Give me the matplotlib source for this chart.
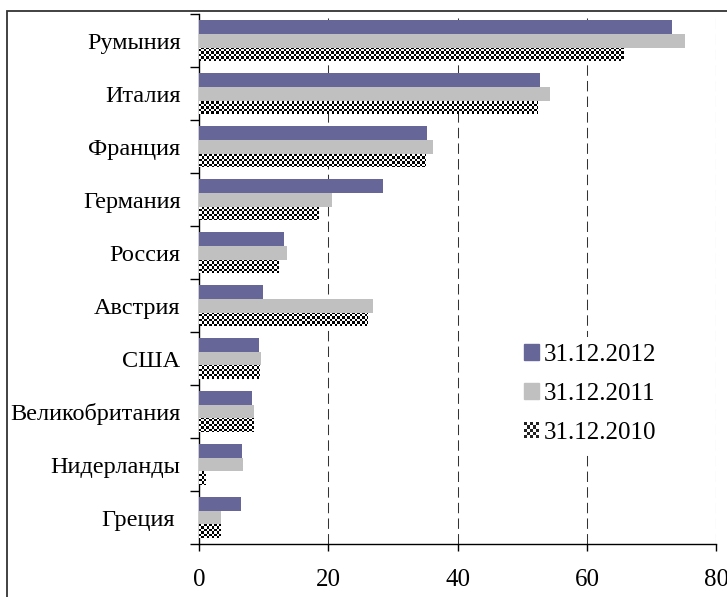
import numpy as np
import matplotlib
matplotlib.use('Agg')
import matplotlib.pyplot as plt
from matplotlib.patches import Rectangle, Patch
from matplotlib.legend_handler import HandlerBase

plt.rcParams['font.family'] = ['Liberation Serif', 'DejaVu Serif']

# страны и значения (сверху вниз)
countries = ['Румыния', 'Италия', 'Франция', 'Германия', 'Россия', 'Австрия',
             'США', 'Великобритания', 'Нидерланды', 'Греция ']
v2012 = [73.1, 52.7, 35.2, 28.4, 13.1, 9.9, 9.3, 8.2, 6.6, 6.4]
v2011 = [75.2, 54.2, 36.1, 20.5, 13.6, 26.9, 9.6, 8.5, 6.8, 3.4]
v2010 = [65.7, 52.4, 35.0, 18.5, 12.3, 26.0, 9.4, 8.5, 1.0, 3.4]
series_labels = ['31.12.2012', '31.12.2011', '31.12.2010']
xticks = [0, 20, 40, 60, 80]

purple = '#666699'
grey = '#c0c0c0'
dark = '#222222'


class CheckerHandler(HandlerBase):
    # клетчатый маркер для легенды
    def create_artists(self, legend, orig, xd, yd, w, h, fs, trans):
        n = 5
        arts = [Rectangle((-xd, -yd), w, h, fc='white', ec='none', transform=trans)]
        for i in range(n):
            for j in range(n):
                if (i + j) % 2 == 0:
                    arts.append(Rectangle((-xd + w * i / n, -yd + h * j / n), w / n, h / n,
                                          fc=dark, ec='none', transform=trans))
        return arts


fig = plt.figure(figsize=(7.27, 5.97), dpi=100)
ax = fig.add_axes([0.274, 0.0888, 0.9854 - 0.274, 0.976 - 0.0888])

y = np.arange(len(countries))
h = 0.26
ax.barh(y - h, v2012, height=h, color=purple, zorder=3)
ax.barh(y, v2011, height=h, color=grey, zorder=3)
bars10 = ax.barh(y + h, v2010, height=h, color='white', zorder=3)

# шахматная заливка для 2010
ny, nx = 212, 207
checker = (np.indices((ny, nx)).sum(axis=0) % 2).astype(float)
for b in bars10:
    im = ax.imshow(checker, cmap='gray', vmin=0, vmax=1, interpolation='nearest',
                   extent=(0, 80, len(countries) - 0.5, -0.5), aspect='auto', zorder=4)
    im.set_clip_path(b)
ax.set_xlim(0, 80)
ax.set_ylim(len(countries) - 0.5, -0.5)

ax.set_yticks(y)
ax.set_yticklabels(countries, fontsize=17.5)
ax.set_yticks(np.arange(-0.5, len(countries)), minor=True)
ax.tick_params(axis='y', which='major', length=0, pad=13.5)
ax.tick_params(axis='y', which='minor', length=6.5, width=1, direction='out')

ax.set_xticks(xticks)
ax.set_xticklabels([str(t) for t in xticks], fontsize=18)
ax.tick_params(axis='x', length=5, width=1, direction='out', pad=13)

ax.spines['top'].set_visible(False)
ax.spines['right'].set_visible(False)
ax.spines['left'].set_linewidth(1)
ax.spines['bottom'].set_linewidth(1)

for t in xticks[1:]:
    ax.axvline(t, color='#333333', lw=0.75, linestyle=(0, (10, 5)), zorder=1)

handles = [Patch(color=purple), Patch(color=grey), Patch(color=dark)]
leg = ax.legend(handles, series_labels, loc='center left',
                bbox_to_anchor=(516 / 727, 1 - 394 / 597), bbox_transform=fig.transFigure,
                fontsize=18, frameon=True, edgecolor='none', facecolor='white', framealpha=1,
                fancybox=False, handlelength=0.6, handleheight=0.6, handletextpad=0.2,
                labelspacing=0.68, borderpad=0.3, borderaxespad=0,
                handler_map={handles[2]: CheckerHandler()})
leg.set_zorder(5)

# рамка вокруг рисунка
fig.patches.append(Rectangle((7 / 727, -0.05), 1.1, 1 - 11 / 597 + 0.05, transform=fig.transFigure,
                             fill=False, ec='#333333', lw=1.3))

fig.savefig('out.png', dpi=100)
